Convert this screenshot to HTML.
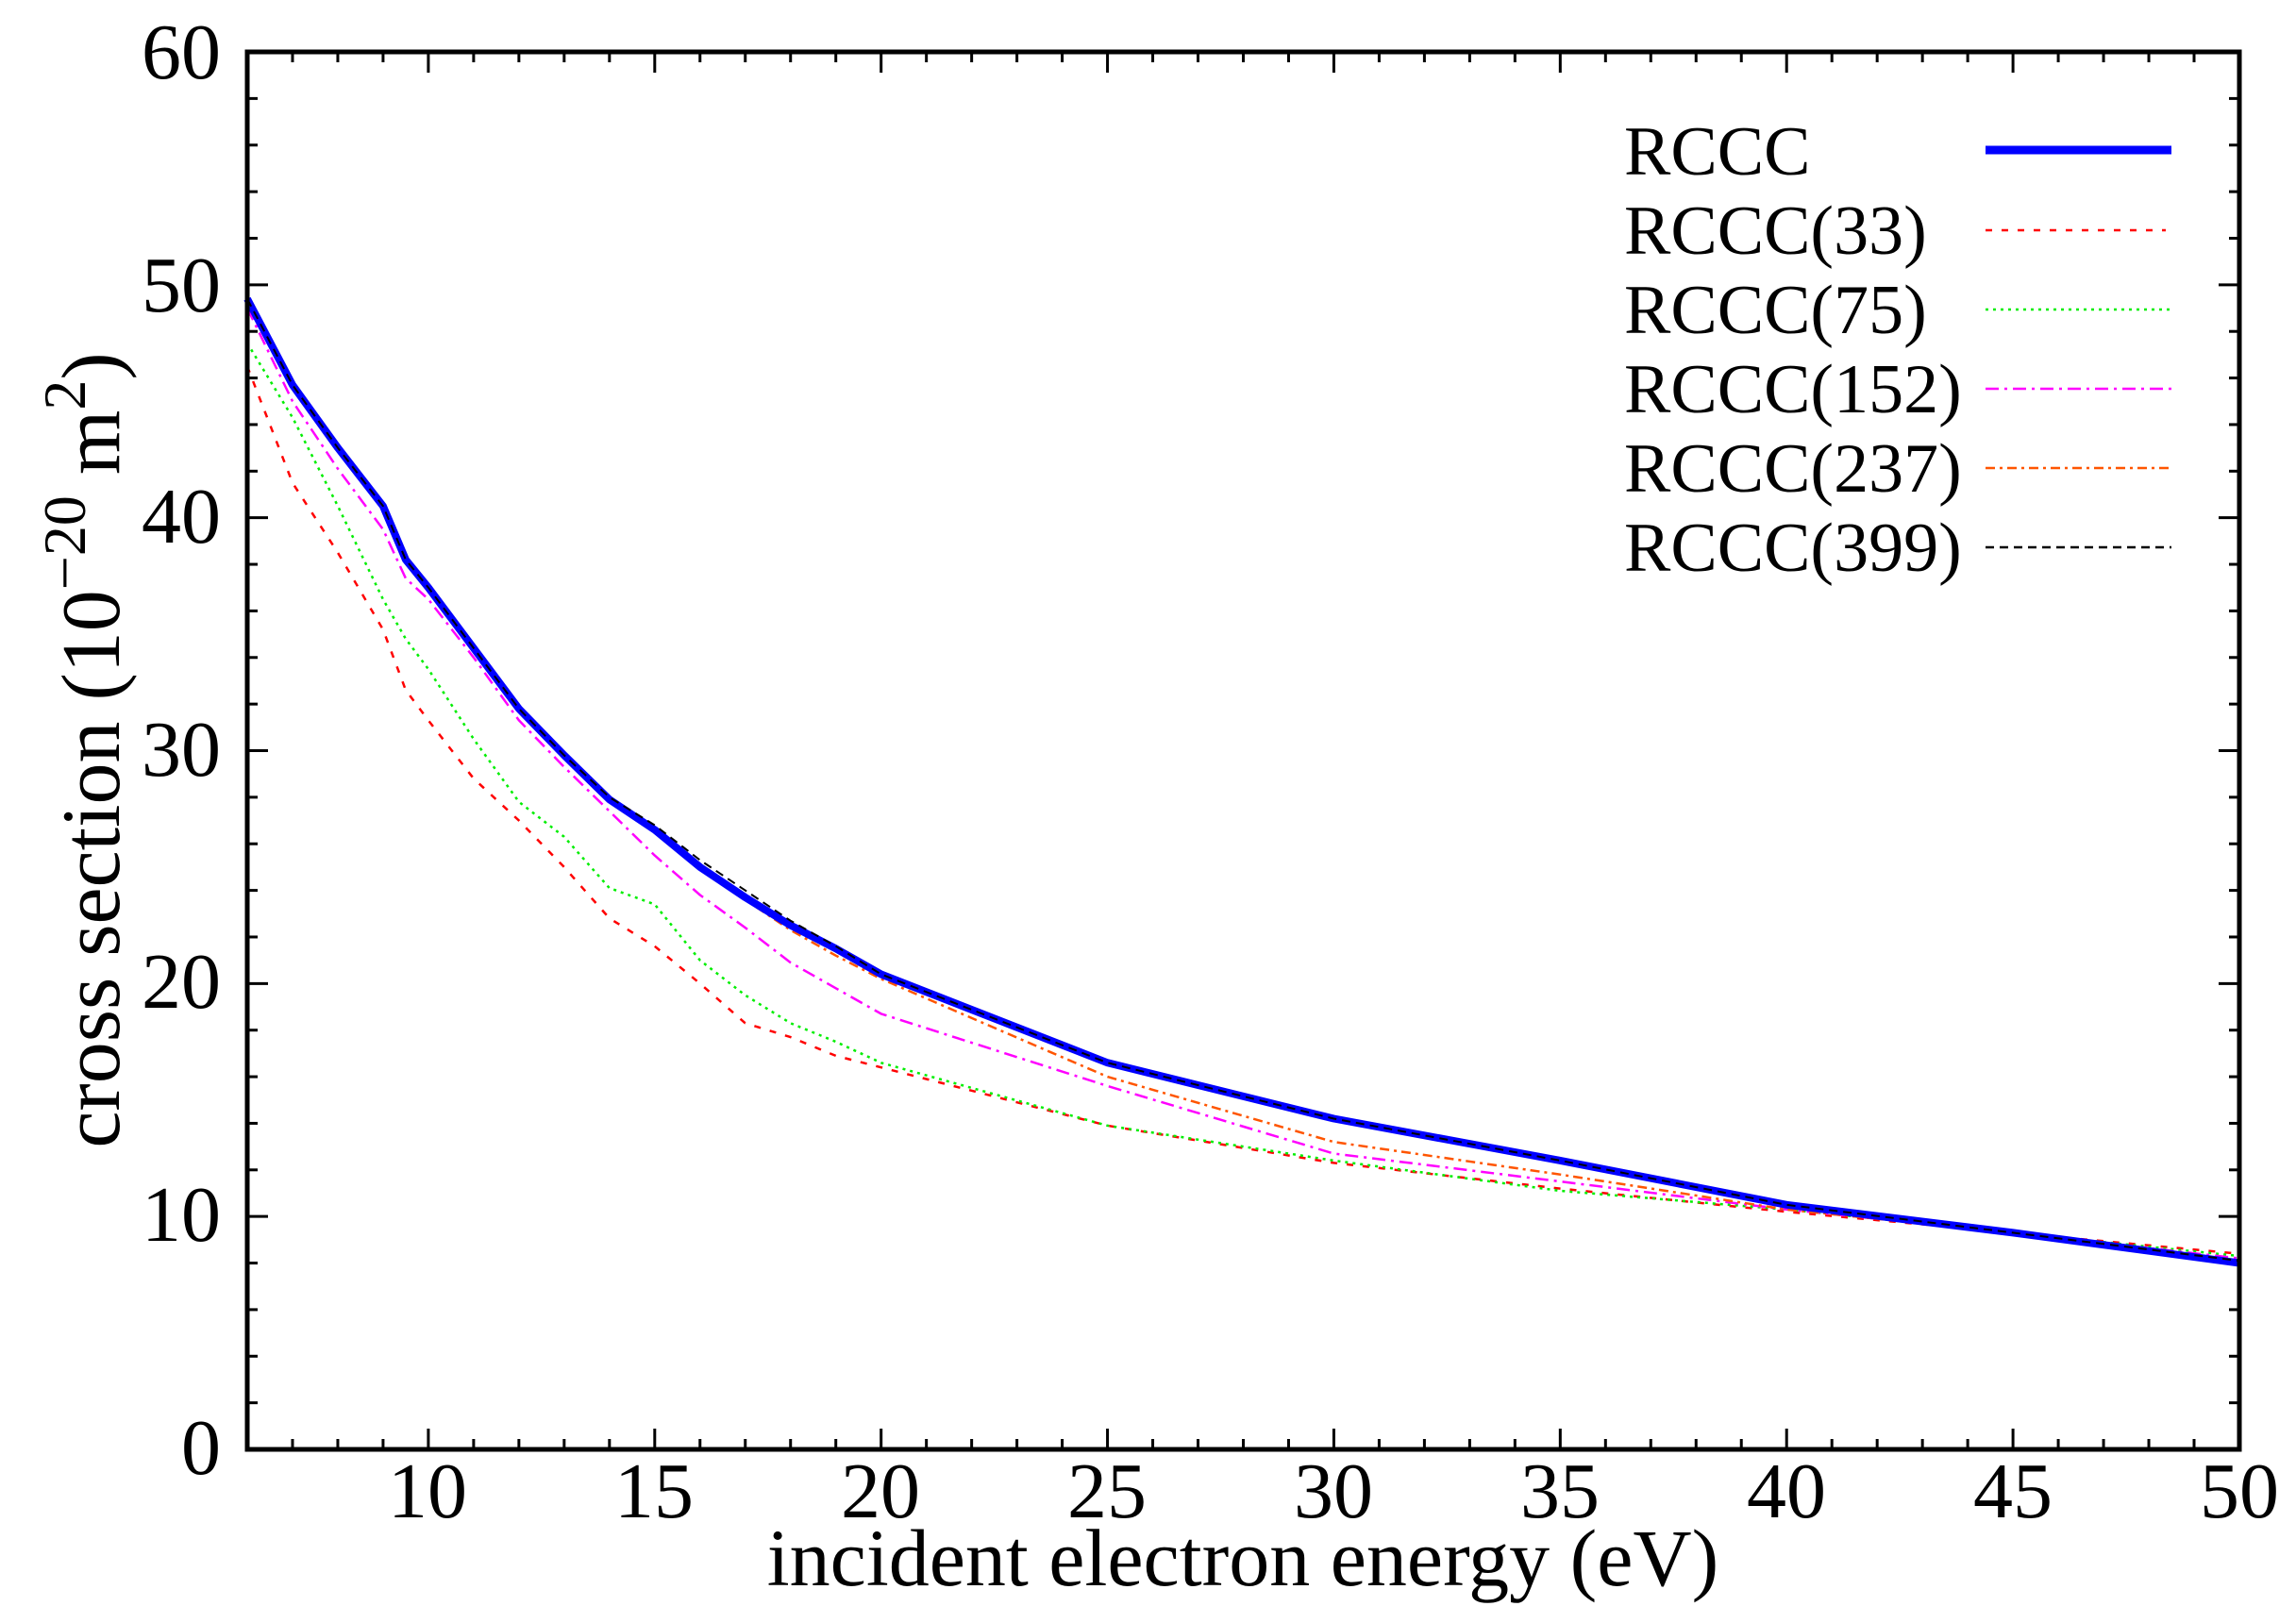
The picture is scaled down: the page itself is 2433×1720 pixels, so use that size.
<!DOCTYPE html>
<html><head><meta charset="utf-8"><style>
html,body{margin:0;padding:0;background:#fff}
svg{display:block}
text{font-family:"Liberation Serif",serif;fill:#000}
</style></head><body>
<svg id="s" width="2433" height="1720" viewBox="0 0 2433 1720" xmlns="http://www.w3.org/2000/svg">
<rect width="2433" height="1720" fill="#fff"/>
<g id="ticks" stroke="#000" stroke-width="3"></g>
<g id="series" fill="none"></g>
<rect x="262" y="55" width="2111" height="1481" fill="none" stroke="#000" stroke-width="5"/>
<g font-size="84" text-anchor="end">
<text x="234" y="1562">0</text>
<text x="234" y="1315">10</text>
<text x="234" y="1068">20</text>
<text x="234" y="822">30</text>
<text x="234" y="575">40</text>
<text x="234" y="330">50</text>
<text x="234" y="83">60</text>
</g>
<g font-size="84" text-anchor="middle">
<text x="453" y="1608">10</text>
<text x="693" y="1608">15</text>
<text x="933" y="1608">20</text>
<text x="1173" y="1608">25</text>
<text x="1413" y="1608">30</text>
<text x="1653" y="1608">35</text>
<text x="1893" y="1608">40</text>
<text x="2133" y="1608">45</text>
<text x="2373" y="1608">50</text>
</g>
<text x="1317" y="1680" font-size="86" text-anchor="middle">incident electron energy (eV)</text>
<text transform="translate(126,795) rotate(-90)" font-size="88" text-anchor="middle">cross section (10<tspan dy="-36" font-size="64">−20</tspan><tspan dy="36"> m</tspan><tspan dy="-36" font-size="64">2</tspan><tspan dy="36">)</tspan></text>
<g font-size="74">
<text x="1721" y="185">RCCC</text>
<text x="1721" y="269">RCCC(33)</text>
<text x="1721" y="353">RCCC(75)</text>
<text x="1721" y="437">RCCC(152)</text>
<text x="1721" y="521">RCCC(237)</text>
<text x="1721" y="605">RCCC(399)</text>
</g>
<line x1="2104" y1="159" x2="2301" y2="159" stroke="#0000ff" stroke-width="9"/>
<line x1="2104" y1="244" x2="2295" y2="244" stroke="#ff0000" stroke-width="2.5" stroke-dasharray="7,10"/>
<line x1="2104" y1="328" x2="2301" y2="328" stroke="#00ee00" stroke-width="2.5" stroke-dasharray="3,5"/>
<line x1="2104" y1="412" x2="2301" y2="412" stroke="#ff00ff" stroke-width="2.5" stroke-dasharray="14,6,3,6"/>
<line x1="2104" y1="496" x2="2301" y2="496" stroke="#ff5500" stroke-width="2.5" stroke-dasharray="10,5,3,5"/>
<line x1="2104" y1="580" x2="2301" y2="580" stroke="#000" stroke-width="2.5" stroke-dasharray="9,6"/>
</svg>
<script>
(function(){
var NS="http://www.w3.org/2000/svg";
function X(e){return 262+(e-6)*47.977;}
function Y(v){return 1536-v*24.683;}
var t=document.getElementById("ticks"),h="";
for(var e=7;e<50;e++){var L=(e%5==0)?22:11;
 h+='<line x1="'+X(e)+'" y1="1536" x2="'+X(e)+'" y2="'+(1536-L)+'"/>';
 h+='<line x1="'+X(e)+'" y1="55" x2="'+X(e)+'" y2="'+(55+L)+'"/>';}
for(var v=2;v<60;v+=2){var L=(v%10==0)?22:11;
 h+='<line x1="262" y1="'+Y(v)+'" x2="'+(262+L)+'" y2="'+Y(v)+'"/>';
 h+='<line x1="2373" y1="'+Y(v)+'" x2="'+(2373-L)+'" y2="'+Y(v)+'"/>';}
t.innerHTML=h;
var E=[6,7,8,9,9.5,10,11,12,13,14,15,16,17,18,19,20,25,30,35,40,45,50];
var blue=[49.4,45.7,43.0,40.5,38.2,37.0,34.4,31.8,29.8,27.9,26.6,25.0,23.7,22.5,21.5,20.4,16.6,14.2,12.4,10.5,9.3,8.0];
var black=[49.4,45.7,43.0,40.5,38.2,37.0,34.4,31.8,29.8,28.0,26.8,25.3,24.0,22.7,21.6,20.4,16.6,14.2,12.4,10.5,9.3,8.1];
var orange=[49.3,45.6,42.9,40.4,38.1,36.9,34.3,31.7,29.7,27.8,26.5,24.9,23.6,22.3,21.2,20.2,16.0,13.2,11.8,10.3,9.3,8.1];
var mag=[49.0,45.0,42.1,39.5,37.4,36.5,34.0,31.3,29.3,27.4,25.5,23.8,22.4,20.9,19.8,18.7,15.6,12.7,11.5,10.3,9.3,8.2];
var red=[46.5,41.5,38.5,35.2,32.6,31.3,28.8,27.0,25.0,22.8,21.6,20.0,18.3,17.7,16.9,16.4,13.9,12.3,11.2,10.2,9.3,8.4];
var green=[47.5,44.3,40.5,36.5,34.8,33.5,30.5,27.8,26.3,24.1,23.4,21.0,19.5,18.3,17.5,16.6,13.9,12.4,11.1,10.3,9.3,8.3];
var S=[[red,"#ff0000","7,10",2.5],[green,"#00ee00","3,5",2.5],[mag,"#ff00ff","14,6,3,6",2.5],[orange,"#ff5500","10,5,3,5",2.5],[blue,"#0000ff","",8],[black,"#000","9,6",2]];
var g=document.getElementById("series");
S.forEach(function(s){var p=document.createElementNS(NS,"polyline");
 p.setAttribute("points",E.map(function(e,i){return X(e).toFixed(1)+","+Y(s[0][i]).toFixed(1);}).join(" "));
 p.setAttribute("stroke",s[1]);p.setAttribute("stroke-width",s[3]);
 if(s[2])p.setAttribute("stroke-dasharray",s[2]);
 p.setAttribute("stroke-linejoin","round");g.appendChild(p);});
})();
</script>
</body></html>
